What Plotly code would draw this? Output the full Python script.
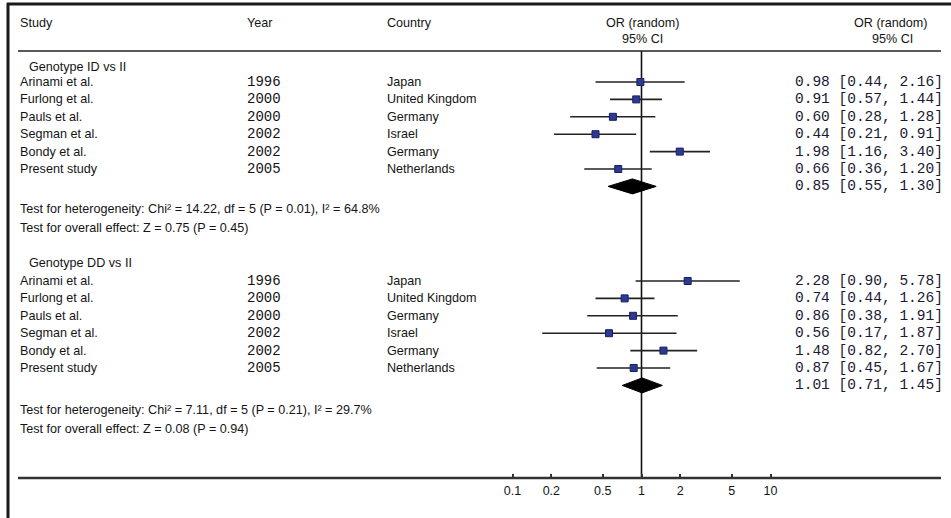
import plotly.graph_objects as go

# ---------------- data ----------------
studies = ["Arinami et al.", "Furlong et al.", "Pauls et al.", "Segman et al.", "Bondy et al.", "Present study"]
years = [1996, 2000, 2000, 2002, 2002, 2005]
countries = ["Japan", "United Kingdom", "Germany", "Israel", "Germany", "Netherlands"]

id_or = [0.98, 0.91, 0.60, 0.44, 1.98, 0.66]
id_lo = [0.44, 0.57, 0.28, 0.21, 1.16, 0.36]
id_hi = [2.16, 1.44, 1.28, 0.91, 3.40, 1.20]
id_pooled = [0.85, 0.55, 1.30]
id_het = "Test for heterogeneity: Chi² = 14.22, df = 5 (P = 0.01), I² = 64.8%"
id_eff = "Test for overall effect: Z = 0.75 (P = 0.45)"

dd_or = [2.28, 0.74, 0.86, 0.56, 1.48, 0.87]
dd_lo = [0.90, 0.44, 0.38, 0.17, 0.82, 0.45]
dd_hi = [5.78, 1.26, 1.91, 1.87, 2.70, 1.67]
dd_pooled = [1.01, 0.71, 1.45]
dd_het = "Test for heterogeneity: Chi² = 7.11, df = 5 (P = 0.21), I² = 29.7%"
dd_eff = "Test for overall effect: Z = 0.08 (P = 0.94)"

groups = ["Genotype ID vs II", "Genotype DD vs II"]
tick_vals = [0.1, 0.2, 0.5, 1, 2, 5, 10]
tick_text = ["0.1", "0.2", "0.5", "1", "2", "5", "10"]

# ---------------- layout geometry (pixel units) ----------------
W, H = 951, 518
X_ONE = 641.5      # pixel of OR = 1
PX_DEC = 129.0     # pixels per decade
xr = [(0 - X_ONE) / PX_DEC, (W - X_ONE) / PX_DEC]

def px(p):
    return p / W

y_head1, y_head2 = 23, 39
y_sep = 51
y_axis = 478
step = 17.4
section_label_y = [67, 263]
first_row_gap = [15, 18]
het_gap = [22.5, 24.5]
sections = [
    dict(label=groups[0], orv=id_or, lo=id_lo, hi=id_hi, pooled=id_pooled, het=id_het, eff=id_eff),
    dict(label=groups[1], orv=dd_or, lo=dd_lo, hi=dd_hi, pooled=dd_pooled, het=dd_het, eff=dd_eff),
]

TXT = "#141414"
NUM = "#1a1a34"
SANS = "Liberation Sans, Arial, sans-serif"
MONO = "Liberation Mono, Courier New, monospace"
FS = 12.6

fig = go.Figure()
ann = []

def text(x, y, s, anchor="left", font=SANS, size=FS, color=TXT):
    ann.append(dict(x=px(x), y=y, xref="paper", yref="y", text=s, showarrow=False,
                    xanchor=anchor, yanchor="middle", font=dict(family=font, size=size, color=color)))

# headers
text(18, y_head1, "Study")
text(245, y_head1, "Year")
text(385, y_head1, "Country")
text(X_ONE + 1, y_head1, "OR (random)", anchor="center")
text(X_ONE + 1, y_head2, "95% CI", anchor="center")
text(890, y_head1, "OR (random)", anchor="center")
text(892, y_head2, "95% CI", anchor="center")

# vertical line of no effect
fig.add_trace(go.Scatter(x=[1, 1], y=[y_sep, y_axis], mode="lines",
                         line=dict(color="#111111", width=1.6), hoverinfo="skip", showlegend=False))

for k, sec in enumerate(sections):
    y0 = section_label_y[k]
    text(27, y0, sec["label"])
    ys = [y0 + first_row_gap[k] + step * i for i in range(len(studies))]
    lx, ly = [], []
    for i, s in enumerate(studies):
        y = ys[i]
        text(18, y, s)
        text(245, y, str(years[i]), font=MONO, size=14)
        text(385, y, countries[i])
        text(945, y, f"{sec['orv'][i]:.2f} [{sec['lo'][i]:.2f}, {sec['hi'][i]:.2f}]",
             anchor="right", font=MONO, size=14.5, color=NUM)
        lx += [sec["lo"][i], sec["hi"][i], None]
        ly += [y, y, None]
    fig.add_trace(go.Scatter(x=lx, y=ly, mode="lines", line=dict(color="#222222", width=1.6),
                             hoverinfo="skip", showlegend=False))
    fig.add_trace(go.Scatter(x=sec["orv"], y=ys, mode="markers",
                             marker=dict(symbol="square", size=7, color="#2d3a94",
                                         line=dict(color="#1a1f5c", width=1)),
                             hoverinfo="skip", showlegend=False))
    # pooled diamond
    yd = ys[-1] + step
    est, lo, hi = sec["pooled"]
    hh = 7.5
    fig.add_trace(go.Scatter(x=[lo, est, hi, est, lo], y=[yd, yd - hh, yd, yd + hh, yd],
                             mode="lines", fill="toself", fillcolor="#000000",
                             line=dict(color="#000000", width=1), hoverinfo="skip", showlegend=False))
    text(945, yd, f"{est:.2f} [{lo:.2f}, {hi:.2f}]", anchor="right", font=MONO, size=14.5, color=NUM)
    text(18, yd + het_gap[k], sec["het"])
    text(18, yd + het_gap[k] + 19.5, sec["eff"])

shapes = [
    # frame (top and left)
    dict(type="line", xref="paper", yref="y", x0=px(7), x1=1, y0=4, y1=4, line=dict(color="#1a1a1a", width=3)),
    dict(type="line", xref="paper", yref="y", x0=px(8), x1=px(8), y0=3, y1=H, line=dict(color="#1a1a1a", width=3)),
    # header separator
    dict(type="line", xref="paper", yref="y", x0=px(18), x1=px(941), y0=y_sep, y1=y_sep,
         line=dict(color="#222222", width=1.6)),
    # axis line
    dict(type="line", xref="paper", yref="y", x0=px(18), x1=px(941), y0=y_axis, y1=y_axis,
         line=dict(color="#333333", width=2.5)),
]

fig.update_layout(
    width=W, height=H, margin=dict(l=0, r=0, t=0, b=0),
    paper_bgcolor="white", plot_bgcolor="white",
    annotations=ann, shapes=shapes,
    xaxis=dict(type="log", range=xr, domain=[0, 1], showgrid=False, zeroline=False, showline=False,
               tickvals=tick_vals, ticktext=tick_text, ticks="inside", ticklen=4, tickwidth=2,
               tickcolor="#333333", anchor="free", position=1 - y_axis / H, ticklabelstandoff=3,
               tickfont=dict(family=SANS, size=12.5, color=TXT), fixedrange=True),
    yaxis=dict(range=[H, 0], domain=[0, 1], visible=False, fixedrange=True),
    showlegend=False,
)

fig.write_html("out.html")
